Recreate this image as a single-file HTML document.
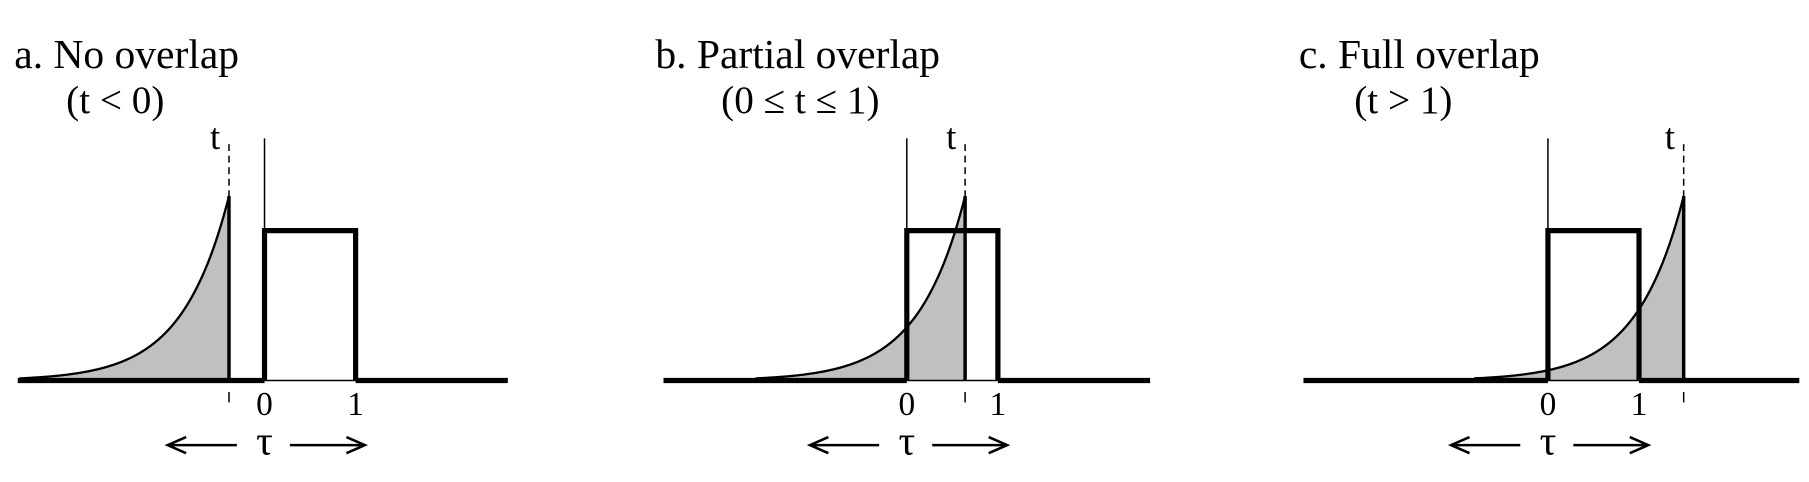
<!DOCTYPE html>
<html><head><meta charset="utf-8"><style>
html,body{margin:0;padding:0;background:#fff;}
svg{display:block;}
text{font-family:"Liberation Serif",serif;fill:#000;}
</style></head><body>
<svg id="fig" width="1809" height="482" viewBox="0 0 1568 418" xmlns="http://www.w3.org/2000/svg"></svg>
<script>
// data
const panelTitles = ["a. No overlap", "b. Partial overlap", "c. Full overlap"];
const panelConditions = ["(t < 0)", "(0 \u2264 t \u2264 1)", "(t > 1)"];
const tValues = [-0.39, 0.64, 1.49];
const peakValues = [1.23, 1.23, 1.23];
const decayRates = [1.94, 1.94, 1.94];
const pulseStart = [0, 0, 0];
const pulseEnd = [1, 1, 1];
const pulseHeight = [1, 1, 1];
const tickLabels = ["0", "1"];
const curveSpan = 2.3;

// layout
const layout = [
  {x0: 229, lineStart: 15, lineEnd: 440, titleX: 12, condX: 57},
  {x0: 786, lineStart: 575, lineEnd: 997, titleX: 568, condX: 625},
  {x0: 1342, lineStart: 1130, lineEnd: 1560, titleX: 1126, condX: 1174}
];
const unitPx = 79, baseY = 330, unitH = 130;
const svg = document.getElementById('fig');
const NS = "http://www.w3.org/2000/svg";
function mk(tag, attrs, parent) {
  const e = document.createElementNS(NS, tag);
  for (const k in attrs) e.setAttribute(k, attrs[k]);
  (parent || svg).appendChild(e);
  return e;
}
for (let i = 0; i < 3; i++) {
  const L = layout[i];
  const X = v => L.x0 + v * unitPx;
  const Y = v => baseY - v * unitH;
  const g = mk('g', {});
  
  

  const title = mk('text', {x: L.titleX, y: 59, 'font-size': 36}, g);
  title.textContent = panelTitles[i];
  
  
  const cond = mk('text', {x: L.condX, y: 98, 'font-size': 34}, g);
  cond.textContent = panelConditions[i];
  
  

  // curve
  const t = tValues[i], k = decayRates[i], pk = peakValues[i];
  let pts = [];
  const n = 80;
  for (let j = 0; j <= n; j++) {
    const tau = t - curveSpan + curveSpan * j / n;
    pts.push([X(tau), Y(pk * Math.exp(-k * (t - tau)))]);
  }
  const dLine = 'M' + pts.map(p => p[0].toFixed(2) + ',' + p[1].toFixed(2)).join(' L');
  const fill = mk('path', {d: dLine + ' L' + X(t) + ',' + baseY + ' L' + X(t - curveSpan) + ',' + baseY + ' Z', fill: '#c0c0c0', stroke: 'none'}, g);
  
  

  // axis at zero
  const ax = mk('line', {x1: X(0), y1: 120, x2: X(0), y2: baseY, stroke: '#000', 'stroke-width': 1.3}, g);
  
  

  // baseline
  const b1 = mk('line', {x1: L.lineStart, y1: baseY, x2: X(pulseStart[i]), y2: baseY, stroke: '#000', 'stroke-width': 4.5}, g);
  
  
  const b2 = mk('line', {x1: X(pulseEnd[i]), y1: baseY, x2: L.lineEnd, y2: baseY, stroke: '#000', 'stroke-width': 4.5}, g);
  
  
  const b3 = mk('line', {x1: X(pulseStart[i]), y1: baseY, x2: X(pulseEnd[i]), y2: baseY, stroke: '#000', 'stroke-width': 1.3}, g);
  
  

  // curve stroke
  const cv = mk('path', {d: dLine, fill: 'none', stroke: '#000', 'stroke-width': 2}, g);
  
  
  const vt = mk('line', {x1: X(t), y1: Y(pk), x2: X(t), y2: baseY, stroke: '#000', 'stroke-width': 3}, g);
  
  

  // pulse
  const pl = mk('path', {d: 'M' + X(pulseStart[i]) + ',' + baseY + ' L' + X(pulseStart[i]) + ',' + Y(pulseHeight[i]) + ' L' + X(pulseEnd[i]) + ',' + Y(pulseHeight[i]) + ' L' + X(pulseEnd[i]) + ',' + baseY, fill: 'none', stroke: '#000', 'stroke-width': 4.5, 'stroke-linejoin': 'miter'}, g);
  
  

  // dashed t markers
  const d1 = mk('line', {x1: X(t), y1: 125, x2: X(t), y2: Y(pk), stroke: '#000', 'stroke-width': 1.3, 'stroke-dasharray': '6,4'}, g);
  
  
  const d2 = mk('line', {x1: X(t), y1: 340, x2: X(t), y2: 349, stroke: '#000', 'stroke-width': 1.3}, g);
  
  
  const tl = mk('text', {x: X(t) - 12, y: 129, 'font-size': 32, 'text-anchor': 'middle'}, g);
  tl.textContent = 't';
  
  

  // tick labels
  [pulseStart[i], pulseEnd[i]].forEach((v, j) => {
    const tx = mk('text', {x: X(v), y: 360, 'font-size': 29, 'text-anchor': 'middle'}, g);
    tx.textContent = tickLabels[j];
    
    
  });

  // tau arrows
  const ay = 386;
  const la = mk('path', {d: 'M' + (X(0) - 24) + ',' + ay + ' L' + (X(0) - 82) + ',' + ay + ' M' + (X(0) - 68) + ',' + (ay - 7) + ' L' + (X(0) - 84) + ',' + ay + ' L' + (X(0) - 68) + ',' + (ay + 7), fill: 'none', stroke: '#000', 'stroke-width': 2.2}, g);
  
  
  const ra = mk('path', {d: 'M' + (X(0) + 22) + ',' + ay + ' L' + (X(0) + 85) + ',' + ay + ' M' + (X(0) + 71) + ',' + (ay - 7) + ' L' + (X(0) + 87) + ',' + ay + ' L' + (X(0) + 71) + ',' + (ay + 7), fill: 'none', stroke: '#000', 'stroke-width': 2.2}, g);
  
  
  const tau = mk('text', {x: X(0), y: 394, 'font-size': 36, 'text-anchor': 'middle'}, g);
  tau.textContent = '\u03C4';
  
  
}
</script>
</body></html>
